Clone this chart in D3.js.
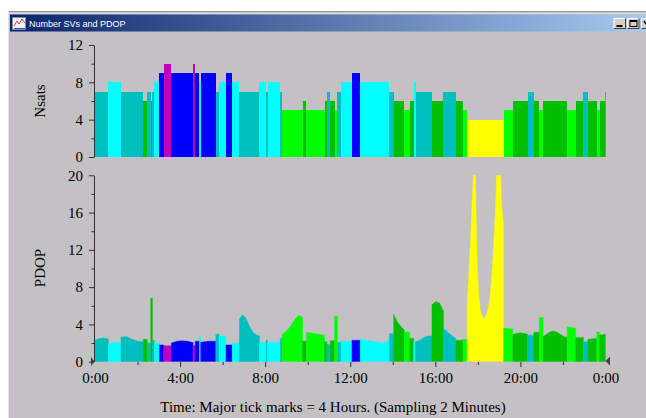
<!DOCTYPE html>
<html>
<head>
<meta charset="utf-8">
<script src="https://cdn.jsdelivr.net/npm/d3@7"></script>
<style>
  body { margin: 0; background: #fff; }
  svg { display: block; }
</style>
</head>
<body>
<svg id="chart" width="646" height="418"></svg>
<script>
// segment start times (hours); each segment ends where the next begins, last one at 24
const SEG_START = [0, 0.63, 1.22, 2.27, 2.46, 2.62, 2.70, 2.79, 3.03, 3.23,
  3.59, 4.61, 4.71, 4.91, 4.97, 5.68, 5.84, 6.16, 6.45, 6.79,
  7.73, 8.05, 8.11, 8.71, 8.80, 9.76, 9.94, 10.79, 10.90, 11.06,
  11.26, 11.40, 11.58, 12.08, 12.47, 13.84, 14.04, 14.54, 14.79, 14.98,
  15.07, 15.84, 16.38, 16.96, 17.30, 17.49, 19.21, 19.64, 20.34, 20.63,
  20.89, 21.07, 22.20, 22.60, 22.96, 23.17, 23.59, 23.72, 23.98];

// number of satellites per segment
const NSATS = [7, 8, 7, 6, 7, 6, 7, 8, 9, 10,
  9, 10, 9, 8, 9, 7, 8, 9, 8, 7,
  8, 7, 8, 7, 5, 6, 5, 6, 7, 6,
  5, 7, 8, 9, 8, 7, 6, 5, 6, 8,
  7, 6, 7, 6, 5, 4, 5, 6, 7, 6,
  5, 6, 5, 6, 7, 6, 5, 6, 7];

// PDOP samples across each segment (evenly spaced from its start to its end)
const PDOP = [
  [2.3, 2.5, 2.55, 2.45], [1.8, 2.05, 2.05, 2.05], [2.65, 2.7, 2.4, 2.2, 2.15], [2.4], [2.0],
  [6.8], [2.3], [2.0], [1.8], [1.7],
  [2.0, 2.2, 2.25, 2.2, 2.05], [1.7], [2.2], [2.7], [2.1, 2.2, 2.2],
  [2.95], [2.75], [1.8], [2.0], [4.6, 5.05, 4.6, 3.8, 3.2, 2.9, 2.75],
  [2.05], [2.3], [2.05], [2.5], [2.95, 3.2, 3.6, 4.1, 4.7, 5.0, 4.75],
  [2.2], [3.15, 3.05, 2.95, 2.85], [2.15], [1.85], [2.25],
  [4.9], [2.05], [2.2], [2.3], [2.4, 2.3, 2.2, 2.1, 2.0, 2.3],
  [3.0], [5.1, 4.3, 3.8, 3.4], [3.2], [2.5], [2.0],
  [2.15, 2.3, 2.6, 2.75, 2.75], [6.1, 6.45, 6.3, 5.4], [3.6, 3.2, 2.8, 2.5], [2.3], [2.4],
  [6.0, 9.0, 12.7, 17, 21, 21, 11, 7.3, 5.5, 4.9, 4.65, 4.8, 5.2, 6.0, 7.3, 9.5, 12.5, 16, 21, 21, 21, 16.3, 14.5],
  [3.6, 3.55, 3.5], [2.9, 3.05, 3.1, 3.05, 2.95], [2.85], [3.15],
  [4.75], [2.7, 2.95, 3.2, 3.3, 3.2, 2.95, 2.7, 2.6], [3.75, 3.6], [2.6], [2.15],
  [2.4, 2.5], [3.2], [2.85, 2.95], [2.9]
];

const X_TICKS = [0, 4, 8, 12, 16, 20, 24];
const X_LABELS = ["0:00", "4:00", "8:00", "12:00", "16:00", "20:00", "0:00"];
const X_MINOR = [2, 6, 10, 14, 18, 22];
const NSATS_TICKS = [0, 4, 8, 12];
const NSATS_MINOR = [2, 6, 10];
const PDOP_TICKS = [0, 4, 8, 12, 16, 20];
const PDOP_MINOR = [2, 6, 10, 14, 18];

const SAT_COLORS = d3.scaleOrdinal()
  .domain([4, 5, 6, 7, 8, 9, 10])
  .range(["#ffff00", "#00ff00", "#00bf00", "#00bfbf", "#00ffff", "#0000ff", "#bf00bf"]);

const BG = "#c4c1c4";
const SERIF = "'Liberation Serif', 'Times New Roman', serif";

const svg = d3.select("#chart");

// window chrome
svg.append("rect").attr("width", 646).attr("height", 418).attr("fill", "#fff");
svg.append("rect").attr("x", 8).attr("y", 11).attr("width", 638).attr("height", 407).attr("fill", BG);
svg.append("rect").attr("x", 8).attr("y", 11).attr("width", 638).attr("height", 1.5).attr("fill", "#9a9a9a");
svg.append("rect").attr("x", 8).attr("y", 12.5).attr("width", 638).attr("height", 1.5).attr("fill", "#dedcde");
svg.append("rect").attr("x", 8).attr("y", 11).attr("width", 1).attr("height", 407).attr("fill", "#e4e2e4");

const grad = svg.append("defs").append("linearGradient").attr("id", "titlebar");
grad.append("stop").attr("offset", "0%").attr("stop-color", "#0a246a");
grad.append("stop").attr("offset", "100%").attr("stop-color", "#a6caf0");
svg.append("rect").attr("x", 10).attr("y", 14.5).attr("width", 636).attr("height", 17).attr("fill", "url(#titlebar)");

// small app icon
svg.append("rect").attr("x", 12.5).attr("y", 17.5).attr("width", 13).attr("height", 12).attr("fill", "#f4f4f4").attr("stroke", "#8090b0").attr("stroke-width", 0.6);
svg.append("path").attr("d", "M14,26 L17,21 L19,24 L22,19 L25,23").attr("fill", "none").attr("stroke", "#d03030").attr("stroke-width", 0.9);
svg.append("path").attr("d", "M14,28.5 H25").attr("stroke", "#3050c0").attr("stroke-width", 1);

svg.append("text")
  .attr("x", 29).attr("y", 27)
  .attr("fill", "#fff")
  .style("font", "9px 'Liberation Sans', Arial, sans-serif")
  .text("Number SVs and PDOP");

[613.5, 627].forEach(function (bx, i) {
  const b = svg.append("g").attr("transform", "translate(" + bx + ",18)");
  b.append("rect").attr("width", 12.5).attr("height", 11).attr("fill", "#d4d0c8");
  b.append("path").attr("d", "M0.5,10.5 V0.5 H12").attr("fill", "none").attr("stroke", "#fff");
  b.append("path").attr("d", "M0.5,10.5 H12 V0.5").attr("fill", "none").attr("stroke", "#404040");
  if (i === 0) {
    b.append("rect").attr("x", 3).attr("y", 7).attr("width", 6).attr("height", 2).attr("fill", "#000");
  } else {
    b.append("rect").attr("x", 3).attr("y", 2.5).attr("width", 7).attr("height", 6).attr("fill", "none").attr("stroke", "#000");
    b.append("rect").attr("x", 3).attr("y", 2.5).attr("width", 7).attr("height", 1.5).attr("fill", "#000");
  }
});
const cb = svg.append("g").attr("transform", "translate(641,18)");
cb.append("rect").attr("width", 12.5).attr("height", 11).attr("fill", "#d4d0c8");
cb.append("path").attr("d", "M0.5,10.5 V0.5 H12").attr("fill", "none").attr("stroke", "#fff");
cb.append("path").attr("d", "M0.5,10.5 H12").attr("fill", "none").attr("stroke", "#404040");
cb.append("path").attr("d", "M3,3 L5,6").attr("stroke", "#000").attr("stroke-width", 1.4);

// scales
const x = d3.scaleLinear().domain([0, 24]).range([95, 605.5]);
const yTop = d3.scaleLinear().domain([0, 12]).range([157, 45]);
const yBot = d3.scaleLinear().domain([0, 20]).range([361.7, 175.3]);

const segments = SEG_START.map(function (s, i) {
  return {
    start: s,
    end: i < SEG_START.length - 1 ? SEG_START[i + 1] : 24,
    sats: NSATS[i],
    pdop: PDOP[i],
  };
});

// Nsats bars
svg.append("g")
  .selectAll("rect")
  .data(segments)
  .enter()
  .append("rect")
  .attr("x", function (d) { return x(d.start); })
  .attr("width", function (d) { return x(d.end) - x(d.start); })
  .attr("y", function (d) { return yTop(d.sats); })
  .attr("height", function (d) { return yTop(0) - yTop(d.sats); })
  .attr("fill", function (d) { return SAT_COLORS(d.sats); })
  .attr("shape-rendering", "crispEdges");

// PDOP areas, clipped at the top of the axis
svg.select("defs").append("clipPath").attr("id", "pdopClip")
  .append("rect").attr("x", 90).attr("y", yBot(20)).attr("width", 520).attr("height", yBot(0) - yBot(20));

const area = d3.area()
  .x(function (d) { return x(d[0]); })
  .y0(yBot(0))
  .y1(function (d) { return yBot(d[1]); });

svg.append("g")
  .attr("clip-path", "url(#pdopClip)")
  .selectAll("path")
  .data(segments)
  .enter()
  .append("path")
  .attr("d", function (d) {
    const n = d.pdop.length;
    let pts;
    if (n === 1) {
      pts = [[d.start, d.pdop[0]], [d.end, d.pdop[0]]];
    } else {
      pts = d.pdop.map(function (v, k) {
        return [d.start + (d.end - d.start) * k / (n - 1), v];
      });
    }
    return area(pts);
  })
  .attr("fill", function (d) { return SAT_COLORS(d.sats); })
  .attr("stroke", function (d) { return SAT_COLORS(d.sats); })
  .attr("stroke-width", 0.4);

// axes
function styleAxis(g) {
  g.selectAll("path.domain").attr("stroke", "#303030");
  g.selectAll(".tick line").attr("stroke", "#303030");
  g.selectAll("text").attr("fill", "#000").style("font", "15px " + SERIF);
}

function yAxes(scale, major, minor) {
  svg.append("g")
    .attr("transform", "translate(94,0)")
    .call(d3.axisLeft(scale).tickValues(minor).tickSize(2.5).tickFormat("").tickSizeOuter(0))
    .call(styleAxis);
  svg.append("g")
    .attr("transform", "translate(94,0)")
    .call(d3.axisLeft(scale).tickValues(major).tickSize(5).tickPadding(6).tickSizeOuter(0))
    .call(styleAxis)
    .call(function (g) { g.select(".domain").remove(); });
}
yAxes(yTop, NSATS_TICKS, NSATS_MINOR);
yAxes(yBot, PDOP_TICKS, PDOP_MINOR);

const xMinor = svg.append("g")
  .attr("transform", "translate(0,362)")
  .call(d3.axisBottom(x).tickValues(X_MINOR).tickSize(3).tickFormat(""))
  .call(styleAxis);
xMinor.select(".domain").remove();

const xMajor = svg.append("g")
  .attr("transform", "translate(0,362)")
  .call(d3.axisBottom(x).tickValues(X_TICKS).tickSize(5).tickPadding(5)
    .tickFormat(function (d, i) { return X_LABELS[i]; }))
  .call(styleAxis);
xMajor.select(".domain").remove();
xMajor.selectAll(".tick line").filter(function (d) { return d === 0 || d === 24; }).remove();

// end markers on the time axis
svg.append("path")
  .attr("d", "M" + (x(0) - 4) + ",357 L" + (x(0) - 0.5) + ",361.5 L" + (x(0) - 4) + ",366 Z")
  .attr("fill", "#404040");
svg.append("path")
  .attr("d", "M" + x(24) + ",361 L" + (x(24) + 4.5) + ",356.5 L" + (x(24) + 4.5) + ",365.5 Z")
  .attr("fill", "#404040");

// axis titles
svg.append("text")
  .attr("transform", "translate(45,101) rotate(-90)")
  .attr("text-anchor", "middle")
  .style("font", "15px " + SERIF)
  .text("Nsats");
svg.append("text")
  .attr("transform", "translate(45,268) rotate(-90)")
  .attr("text-anchor", "middle")
  .style("font", "15px " + SERIF)
  .text("PDOP");
svg.append("text")
  .attr("x", 333).attr("y", 412)
  .attr("text-anchor", "middle")
  .style("font", "15px " + SERIF)
  .text("Time: Major tick marks = 4 Hours. (Sampling 2 Minutes)");
</script>
</body>
</html>
